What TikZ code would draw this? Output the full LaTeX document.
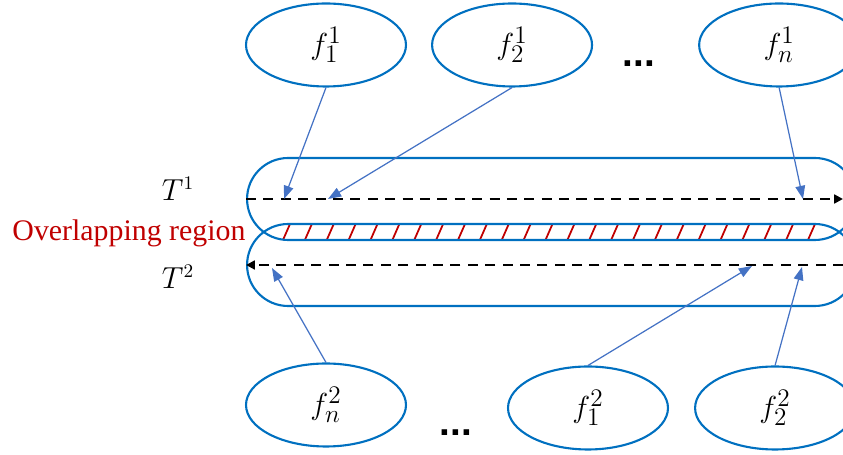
\documentclass[tikz,border=0pt]{standalone}
\usepackage{fontspec}
\setmainfont{Liberation Serif}
\newfontfamily\dotsfont{Liberation Sans}
\usetikzlibrary{shapes.geometric, arrows.meta, positioning}
\definecolor{capblue}{RGB}{0, 112, 192}
\definecolor{arrblue}{RGB}{68, 114, 196}
\definecolor{darkred}{RGB}{192, 0, 0}

\begin{document}
\begin{tikzpicture}[
  x=0.02cm, y=-0.02cm,
  feat/.style={ellipse, draw=capblue, line width=1.2pt, minimum width=3.2cm,
               minimum height=1.66cm, inner sep=0pt, font=\fontsize{19}{22}\selectfont},
  track/.style={rectangle, rounded corners=0.82cm, draw=capblue, line width=1.2pt,
                minimum width=12.18cm, minimum height=1.64cm, inner sep=0pt},
  arr/.style={-{Triangle[length=7.5pt, width=5.5pt]}, arrblue, line width=0.7pt},
  traj/.style={-{Triangle[length=5pt, width=5pt]}, dash pattern=on 5.7pt off 4.2pt,
               line width=1.5pt, black},
  hatch/.style={darkred, line width=1pt},
  dots/.style={font=\dotsfont\bfseries\fontsize{22}{24}\selectfont},
  node distance=0.5cm
]
\clip (0,0) rectangle (843,455);

% overlapping region
\foreach \i in {0,...,24}
  \draw[hatch] ({283+21.875*\i},240) -- ++(7,-16);

% the two tracks
\node[track] (t1) at (551.5,199) {};
\node[track] (t2) at (551.5,265) {};

% features of track 1
\node[feat] (f11) at (326,45) {$f_1^1$};
\node[feat, right=0.48cm of f11] (f21) {$f_2^1$};
\node[feat, right=2.1cm of f21] (fn1) {$f_n^1$};
\node[dots] (dots1) at (639,64) {...};

% features of track 2
\node[feat] (fn2) at (326,405) {$f_n^2$};
\node[feat] (f12) at (588,408) {$f_1^2$};
\node[feat, right=0.5cm of f12] (f22) {$f_2^2$};
\node[dots] (dots2) at (456,433) {...};

% labels
\node[font=\fontsize{16}{19}\selectfont] (lt1) at (178,189) {$T^1$};
\node[font=\fontsize{16}{19}\selectfont] (lt2) at (178,277) {$T^2$};
\node[text=darkred, font=\fontsize{17}{20}\selectfont] (ovl) at (129,233) {Overlapping region};

% trajectories
\coordinate (t1e) at (843,199);
\coordinate (t2s) at (843,265);
\draw[traj] (t1.west) -- (t1e);
\draw[traj] (t2s) -- (t2.west);

% feature points on the trajectories
\coordinate (p1) at (284,199);
\coordinate (p2) at (328,199);
\coordinate (p3) at (803,199);
\coordinate (q1) at (272,268);
\coordinate (q2) at (752,266);
\coordinate (q3) at (802,267);

\draw[arr] (f11.south) -- (p1);
\draw[arr] (f21.south) -- (p2);
\draw[arr] (fn1.south) -- (p3);
\draw[arr] (fn2.north) -- (q1);
\draw[arr] (f12.north) -- (q2);
\draw[arr] (f22.north) -- (q3);
\end{tikzpicture}
\end{document}
